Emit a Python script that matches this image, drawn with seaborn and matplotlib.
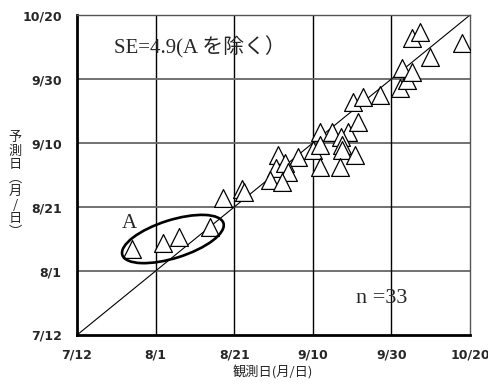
import matplotlib
matplotlib.use('Agg')
import matplotlib.pyplot as plt
import matplotlib.transforms as mtransforms
from matplotlib.patches import Ellipse
import seaborn as sns
import pandas as pd

# days counted from 7/12
tick_days = [0, 20, 40, 60, 80, 100]
tick_labels = ['7/12', '8/1', '8/21', '9/10', '9/30', '10/20']

observed = [14.0, 21.9, 26.0, 33.8, 37.2, 42.0, 42.5, 51.1, 56.2, 50.6,
            52.9, 53.7, 49.1, 52.2, 60.1, 61.8, 64.9, 69.0, 67.2, 71.5,
            61.8, 67.4, 67.4, 70.7, 61.8, 66.9, 70.2, 72.8, 77.1, 82.2,
            84.0, 82.7, 85.2, 89.8, 85.2, 87.3, 98.0]
predicted = [26.9, 28.8, 30.6, 33.8, 42.8, 45.6, 44.7, 56.3, 55.6, 52.2,
             53.8, 50.9, 48.4, 47.8, 57.8, 63.4, 63.4, 63.4, 61.9, 66.6,
             59.4, 59.4, 57.8, 56.3, 52.5, 52.5, 72.8, 74.4, 75.0, 77.2,
             79.7, 83.4, 82.2, 86.9, 92.8, 94.7, 91.3]

df = pd.DataFrame({'obs': observed, 'pred': predicted})

sns.set_style('white')
plt.rcParams['font.family'] = ['DejaVu Sans', 'Noto Sans CJK JP']

fig = plt.figure(figsize=(4.89, 3.87), dpi=100)
ax = fig.add_axes([0.1575, 0.1344, 0.8035, 0.8266])

ax.set_xlim(0, 100)
ax.set_ylim(0, 100)

# grid
for d in tick_days[1:-1]:
    ax.axvline(d, color='black', lw=1.0, zorder=1)
    ax.axhline(d, color='#666666', lw=1.3, zorder=1)

# 1:1 line
ax.plot([0, 100], [0, 100], color='black', lw=0.8, zorder=2)

sns.scatterplot(data=df, x='obs', y='pred', marker='^', s=165,
                facecolor='white', edgecolor='black', linewidth=0.9,
                zorder=3, ax=ax, legend=False)

# ellipse around group A (size in inches)
trans = fig.dpi_scale_trans + mtransforms.ScaledTranslation(24.4, 30.0, ax.transData)
ax.add_patch(Ellipse((0, 0), 1.06, 0.38, angle=17.5, transform=trans,
                     fill=False, edgecolor='black', lw=1.9, zorder=4))

serif = ['Liberation Serif', 'Noto Sans CJK JP']
ax.text(9.3, 89.8, 'SE=4.9(A を除く）', family=serif, fontsize=15, va='center')
ax.text(71, 11.5, 'n =33', family=serif, fontsize=16, va='center')
ax.text(11.5, 35.0, 'A', family=serif, fontsize=15, va='center')

ax.set_xticks(tick_days)
ax.set_xticklabels(tick_labels, fontweight='bold', fontsize=9)
ax.set_yticks(tick_days)
ax.set_yticklabels(tick_labels, fontweight='bold', fontsize=9)
ax.tick_params(axis='both', direction='out', length=4, width=1.5, color='black')
ax.tick_params(axis='x', pad=6)
ax.tick_params(axis='y', pad=7)

for side in ['left', 'bottom']:
    ax.spines[side].set_color('black')
    ax.spines[side].set_linewidth(2.0)
for side in ['top', 'right']:
    ax.spines[side].set_color('#555555')
    ax.spines[side].set_linewidth(1.0)

ax.set_xlabel('')
ax.set_ylabel('')
cjk = ['Noto Sans CJK JP', 'DejaVu Sans']
fig.text(0.558, 0.038, '観測日(月/日)', family=cjk, fontsize=9.5, ha='center', va='center')
fig.text(0.031, 0.522, '予\n測\n日\n︵\n月\n/\n日\n︶', family=cjk, fontsize=9.5,
         ha='center', va='center', linespacing=1.05)

fig.savefig('out.png', dpi=100)
